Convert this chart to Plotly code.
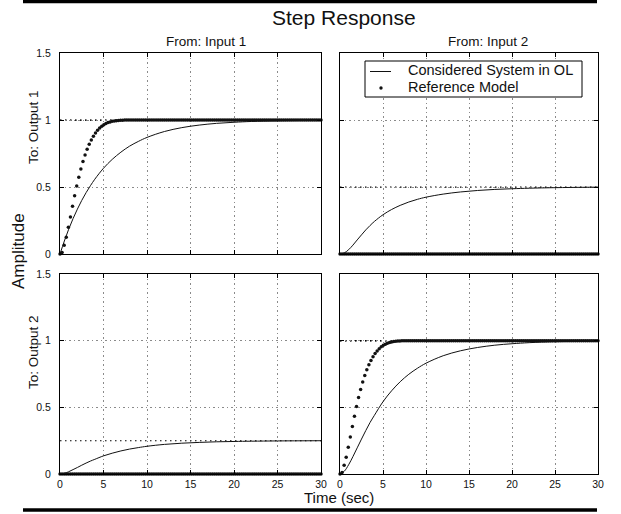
import plotly.graph_objects as go

W, H = 621, 514

# ---------------- data ----------------
ref_time = [
    0.0, 0.24, 0.48, 0.72, 0.96, 1.2, 1.44, 1.68, 1.92, 2.16,
    2.4, 2.64, 2.88, 3.12, 3.36, 3.6, 3.84, 4.08, 4.32, 4.56,
    4.8, 5.04, 5.28, 5.52, 5.76, 6.0, 6.24, 6.48, 6.72, 6.96,
    7.2, 7.44, 7.68, 7.92, 8.16, 8.4, 8.64, 8.88, 9.12, 9.36,
    9.6, 9.84, 10.08, 10.32, 10.56, 10.8, 11.04, 11.28, 11.52, 11.76,
    12.0, 12.24, 12.48, 12.72, 12.96, 13.2, 13.44, 13.68, 13.92, 14.16,
    14.4, 14.64, 14.88, 15.12, 15.36, 15.6, 15.84, 16.08, 16.32, 16.56,
    16.8, 17.04, 17.28, 17.52, 17.76, 18.0, 18.24, 18.48, 18.72, 18.96,
    19.2, 19.44, 19.68, 19.92, 20.16, 20.4, 20.64, 20.88, 21.12, 21.36,
    21.6, 21.84, 22.08, 22.32, 22.56, 22.8, 23.04, 23.28, 23.52, 23.76,
    24.0, 24.24, 24.48, 24.72, 24.96, 25.2, 25.44, 25.68, 25.92, 26.16,
    26.4, 26.64, 26.88, 27.12, 27.36, 27.6, 27.84, 28.08, 28.32, 28.56,
    28.8, 29.04, 29.28, 29.52, 29.76, 30.0,
]

# Reference model on the diagonal channels (1->1, 2->2)
ref_diag = [
    0.0, 0.012, 0.065, 0.125, 0.2, 0.277, 0.356, 0.434, 0.507, 0.573,
    0.634, 0.69, 0.738, 0.781, 0.819, 0.851, 0.879, 0.903, 0.923, 0.94,
    0.954, 0.965, 0.974, 0.981, 0.986, 0.99, 0.993, 0.995, 0.997, 0.998,
    0.999,
    1.0, 1.0, 1.0, 1.0, 1.0, 1.0, 1.0, 1.0, 1.0, 1.0, 1.0, 1.0, 1.0, 1.0, 1.0, 1.0, 1.0, 1.0, 1.0,
    1.0, 1.0, 1.0, 1.0, 1.0, 1.0, 1.0, 1.0, 1.0, 1.0, 1.0, 1.0, 1.0, 1.0, 1.0, 1.0, 1.0, 1.0, 1.0,
    1.0, 1.0, 1.0, 1.0, 1.0, 1.0, 1.0, 1.0, 1.0, 1.0, 1.0, 1.0, 1.0, 1.0, 1.0, 1.0, 1.0, 1.0, 1.0,
    1.0, 1.0, 1.0, 1.0, 1.0, 1.0, 1.0, 1.0, 1.0, 1.0, 1.0, 1.0, 1.0, 1.0, 1.0, 1.0, 1.0, 1.0, 1.0,
    1.0, 1.0, 1.0, 1.0, 1.0, 1.0, 1.0, 1.0, 1.0, 1.0, 1.0, 1.0, 1.0, 1.0, 1.0, 1.0, 1.0, 1.0, 1.0,
]

# Reference model on the off-diagonal channels (decoupled: zero)
ref_offdiag = [
    0.0, 0.0, 0.0, 0.0, 0.0, 0.0, 0.0, 0.0, 0.0, 0.0, 0.0, 0.0, 0.0, 0.0, 0.0, 0.0, 0.0, 0.0, 0.0, 0.0, 0.0,
    0.0, 0.0, 0.0, 0.0, 0.0, 0.0, 0.0, 0.0, 0.0, 0.0, 0.0, 0.0, 0.0, 0.0, 0.0, 0.0, 0.0, 0.0, 0.0, 0.0, 0.0,
    0.0, 0.0, 0.0, 0.0, 0.0, 0.0, 0.0, 0.0, 0.0, 0.0, 0.0, 0.0, 0.0, 0.0, 0.0, 0.0, 0.0, 0.0, 0.0, 0.0, 0.0,
    0.0, 0.0, 0.0, 0.0, 0.0, 0.0, 0.0, 0.0, 0.0, 0.0, 0.0, 0.0, 0.0, 0.0, 0.0, 0.0, 0.0, 0.0, 0.0, 0.0, 0.0,
    0.0, 0.0, 0.0, 0.0, 0.0, 0.0, 0.0, 0.0, 0.0, 0.0, 0.0, 0.0, 0.0, 0.0, 0.0, 0.0, 0.0, 0.0, 0.0, 0.0, 0.0,
    0.0, 0.0, 0.0, 0.0, 0.0, 0.0, 0.0, 0.0, 0.0, 0.0, 0.0, 0.0, 0.0, 0.0, 0.0, 0.0, 0.0, 0.0, 0.0, 0.0, 0.0,
]

# Considered system in open loop
sys_time = [0, 0.5, 1, 1.5, 2, 2.5, 3, 3.5, 4, 5, 6, 7, 8, 9, 10, 12, 14, 16, 18, 20, 22, 25, 30]
sys_11 = [0.0, 0.097, 0.185, 0.264, 0.335, 0.4, 0.458, 0.51, 0.558, 0.64, 0.706, 0.76, 0.805,
          0.84, 0.87, 0.914, 0.943, 0.962, 0.975, 0.983, 0.989, 0.994, 0.998]
sys_12 = [0.0, 0.008, 0.032, 0.066, 0.105, 0.143, 0.18, 0.213, 0.243, 0.293, 0.332, 0.363, 0.388,
          0.408, 0.424, 0.447, 0.463, 0.474, 0.482, 0.487, 0.491, 0.495, 0.499]
sys_21 = [0.0, 0.005, 0.017, 0.033, 0.049, 0.066, 0.082, 0.097, 0.11, 0.136, 0.156, 0.173, 0.187,
          0.198, 0.208, 0.222, 0.231, 0.237, 0.2415, 0.244, 0.246, 0.248, 0.2495]
sys_22 = [0.0, 0.021, 0.069, 0.13, 0.196, 0.262, 0.326, 0.387, 0.44, 0.542, 0.624, 0.692, 0.748,
          0.793, 0.831, 0.887, 0.924, 0.949, 0.966, 0.977, 0.985, 0.992, 0.998]

x_tick_vals = [0, 5, 10, 15, 20, 25, 30]
x_tick_text = ["0", "5", "10", "15", "20", "25", "30"]
y_tick_vals = [0, 0.5, 1, 1.5]
y_tick_text = ["0", "0.5", "1", "1.5"]

title_text = "Step Response"
col_titles = ["From: Input 1", "From: Input 2"]
row_titles = ["To: Output 1", "To: Output 2"]
y_label = "Amplitude"
x_label = "Time (sec)"
legend_names = ["Considered System in OL", "Reference Model"]

# ---------------- layout helpers ----------------
FONT = "Liberation Sans, Arial, Helvetica, sans-serif"
TXT = "#111111"


def px(x):
    return x / W


def py(y):
    return 1 - y / H


col_dom = [(60, 321), (340, 598)]
row_dom = [(53, 254), (274, 474)]

panels = [
    # (row, col, system, reference)
    (0, 0, sys_11, ref_diag),
    (0, 1, sys_12, ref_offdiag),
    (1, 0, sys_21, ref_offdiag),
    (1, 1, sys_22, ref_diag),
]

fig = go.Figure()
shapes = []
layout_axes = {}

for i, (r, c, sysv, refv) in enumerate(panels):
    n = i + 1
    sx = "" if n == 1 else str(n)
    xref, yref = "x" + sx, "y" + sx

    fig.add_trace(go.Scatter(
        x=sys_time, y=sysv, xaxis=xref, yaxis=yref, mode="lines",
        line=dict(color="#111111", width=1, shape="spline", smoothing=1.0),
        name=legend_names[0], showlegend=False, hoverinfo="skip",
    ))
    fig.add_trace(go.Scatter(
        x=ref_time, y=refv, xaxis=xref, yaxis=yref, mode="markers",
        marker=dict(color="#111111", size=3.5, line=dict(width=0)),
        name=legend_names[1], showlegend=False, cliponaxis=False, hoverinfo="skip",
    ))

    # steady-state dotted lines (MATLAB style) for both responses
    for final in (sysv[-1], refv[-1]):
        shapes.append(dict(
            type="line", xref=xref, yref=yref,
            x0=x_tick_vals[0], x1=x_tick_vals[-1], y0=final, y1=final,
            line=dict(color="#000000", width=1.2, dash="1.5px,3.5px"), layer="below",
        ))

    x0, x1 = col_dom[c]
    y0, y1 = row_dom[r]
    common = dict(
        showgrid=True, gridcolor="#8a8a8a", gridwidth=1, griddash="1.5px,3px",
        showline=True, linecolor="#000000", linewidth=1, mirror="ticks",
        ticks="inside", ticklen=4, tickcolor="#000000", tickwidth=1,
        zeroline=False, automargin=False,
        tickfont=dict(family=FONT, size=10.5, color=TXT),
    )
    layout_axes["xaxis" + sx] = dict(
        common, domain=[px(x0), px(x1)], range=[x_tick_vals[0], x_tick_vals[-1]],
        tickvals=x_tick_vals, ticktext=x_tick_text, showticklabels=(r == 1),
        anchor=yref, ticklabelstandoff=0,
    )
    layout_axes["yaxis" + sx] = dict(
        common, domain=[py(y1), py(y0)], range=[y_tick_vals[0], y_tick_vals[-1]],
        tickvals=y_tick_vals, ticktext=y_tick_text, showticklabels=(c == 0),
        anchor=xref, ticklabelstandoff=6,
    )

# separator bars at top and bottom
shapes.append(dict(type="line", xref="paper", yref="paper", x0=px(23), x1=px(597),
                   y0=py(1.7), y1=py(1.7), line=dict(color="#000000", width=3.3)))
shapes.append(dict(type="line", xref="paper", yref="paper", x0=px(23), x1=px(597),
                   y0=py(510), y1=py(510), line=dict(color="#000000", width=3.5)))

# legend box (inside the top-right panel)
shapes.append(dict(type="rect", xref="paper", yref="paper", x0=px(365), x1=px(582),
                   y0=py(97), y1=py(61), fillcolor="#ffffff",
                   line=dict(color="#000000", width=1), layer="above"))
shapes.append(dict(type="line", xref="paper", yref="paper", x0=px(370), x1=px(391),
                   y0=py(71.5), y1=py(71.5), line=dict(color="#111111", width=1), layer="above"))
shapes.append(dict(type="circle", xref="paper", yref="paper", x0=px(379.3), x1=px(382.7),
                   y0=py(89.7), y1=py(86.3), fillcolor="#111111",
                   line=dict(width=0), layer="above"))

annotations = [
    dict(text=title_text, x=px(344), y=py(18), font=dict(size=21)),
    dict(text=col_titles[0], x=px(206), y=py(41.5), font=dict(size=13.5)),
    dict(text=col_titles[1], x=px(488), y=py(41.5), font=dict(size=13.5)),
    dict(text=row_titles[0], x=px(33), y=py(127), font=dict(size=13.5), textangle=-90),
    dict(text=row_titles[1], x=px(33), y=py(352), font=dict(size=13.5), textangle=-90),
    dict(text=y_label, x=px(18), y=py(251), font=dict(size=17), textangle=-90),
    dict(text=x_label, x=px(338.5), y=py(497.5), font=dict(size=15)),
    dict(text=legend_names[0], x=px(406), y=py(70), font=dict(size=14.5), xanchor="left"),
    dict(text=legend_names[1], x=px(406), y=py(86.5), font=dict(size=14.5), xanchor="left"),
]
for a in annotations:
    a.setdefault("xanchor", "center")
    a.update(xref="paper", yref="paper", yanchor="middle", showarrow=False)
    a["font"].update(family=FONT, color=TXT)

fig.update_layout(
    width=W, height=H,
    margin=dict(l=0, r=0, t=0, b=0),
    paper_bgcolor="#ffffff", plot_bgcolor="#ffffff",
    showlegend=False,
    shapes=shapes,
    annotations=annotations,
    **layout_axes,
)

fig.write_html(
    "out.html",
    config={"displayModeBar": False},
    post_script="document.body.style.margin='0';document.documentElement.style.overflow='hidden';",
)
